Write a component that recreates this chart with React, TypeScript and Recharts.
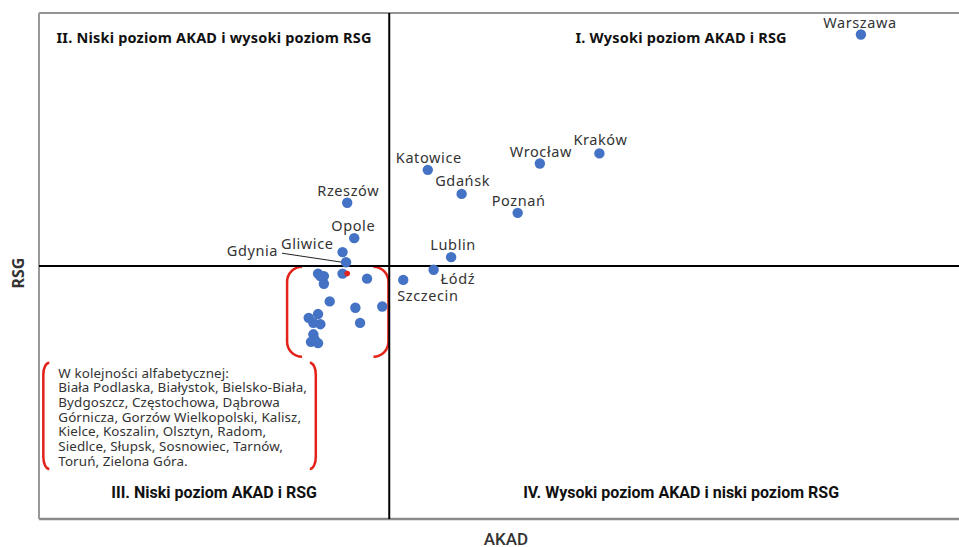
import React from 'react';
import {
  ScatterChart, Scatter, XAxis, YAxis, CartesianGrid, ReferenceLine, ReferenceArea,
} from 'recharts';

// ---- data ----
const cityNames = ['Warszawa', 'Kraków', 'Wrocław', 'Poznań', 'Katowice', 'Gdańsk', 'Lublin', 'Łódź', 'Szczecin', 'Rzeszów', 'Opole', 'Gliwice', 'Gdynia'];
const cityAkad = [7.04, 4.80, 4.29, 4.10, 3.33, 3.62, 3.53, 3.38, 3.12, 2.64, 2.70, 2.60, 2.63];
const cityRsg = [3.83, 2.89, 2.81, 2.42, 2.76, 2.57, 2.07, 1.97, 1.89, 2.50, 2.22, 2.11, 2.03];

const clusterAkad = [2.39, 2.44, 2.44, 2.60, 2.81, 2.49, 2.71, 2.94, 2.75, 2.31, 2.39, 2.35, 2.41, 2.35, 2.33, 2.39, 2.36, 2.41];
const clusterRsg = [1.94, 1.92, 1.86, 1.94, 1.90, 1.72, 1.67, 1.68, 1.55, 1.59, 1.62, 1.55, 1.54, 1.46, 1.40, 1.39, 1.42, 1.92];

const highlightAkad = [2.64];
const highlightRsg = [1.94];

const xTicks = [0, 1, 2, 3, 4, 5, 6, 7, 8];
const yTicks = [0, 1, 2, 3, 4];
const akadMid = 3;
const rsgMid = 2;

const quadrantTitles = [
  'I. Wysoki poziom AKAD i RSG',
  'II. Niski poziom AKAD i wysoki poziom RSG',
  'III. Niski poziom AKAD i RSG',
  'IV. Wysoki poziom AKAD i niski poziom RSG',
];

const legendLines = [
  'W kolejności alfabetycznej:',
  'Biała Podlaska, Białystok, Bielsko-Biała,',
  'Bydgoszcz, Częstochowa, Dąbrowa',
  'Górnicza, Gorzów Wielkopolski, Kalisz,',
  'Kielce, Koszalin, Olsztyn, Radom,',
  'Siedlce, Słupsk, Sosnowiec, Tarnów,',
  'Toruń, Zielona Góra.',
];

// ---- styles / label placement (kept apart from data) ----
const BLUE = '#4472C4';
const RED = '#E32219';
const TEXT = '#333333';
const LABEL_FONT = '"Noto Sans", sans-serif';
const TOP_FONT = '"Noto Sans", sans-serif';
const BOTTOM_FONT = 'Roboto, sans-serif';

const labelPlacement: Record<string, { dx: number; dy: number; anchor: string; leader?: boolean }> = {
  Warszawa: { dx: -1, dy: -13, anchor: 'middle' },
  'Kraków': { dx: 1, dy: -14, anchor: 'middle' },
  'Wrocław': { dx: 1, dy: -13, anchor: 'middle' },
  'Poznań': { dx: 1, dy: -13, anchor: 'middle' },
  Katowice: { dx: 1, dy: -13, anchor: 'middle' },
  'Gdańsk': { dx: 1, dy: -14, anchor: 'middle' },
  Lublin: { dx: 2, dy: -13, anchor: 'middle' },
  'Łódź': { dx: 7, dy: 8, anchor: 'start' },
  Szczecin: { dx: -6, dy: 15, anchor: 'start' },
  'Rzeszów': { dx: 1, dy: -13, anchor: 'middle' },
  Opole: { dx: -1, dy: -13, anchor: 'middle' },
  Gliwice: { dx: -9, dy: -9, anchor: 'end' },
  Gdynia: { dx: -68, dy: -12, anchor: 'end', leader: true },
};

const cityData = cityNames.map((name, i) => ({ name, x: cityAkad[i], y: cityRsg[i] }));
const clusterData = clusterAkad.map((x, i) => ({ x, y: clusterRsg[i] }));
const highlightData = highlightAkad.map((x, i) => ({ x, y: highlightRsg[i] }));

const CityShape = (props: any) => {
  const { cx, cy, payload } = props;
  const p = labelPlacement[payload.name] || { dx: 0, dy: -13, anchor: 'middle' };
  return (
    <g>
      {p.leader && (
        <line x1={cx + p.dx + 4} y1={cy + p.dy + 3} x2={cx - 4} y2={cy} stroke="#222" strokeWidth={1} />
      )}
      <circle cx={cx} cy={cy} r={5.2} fill={BLUE} />
      <text
        x={cx + p.dx}
        y={cy + p.dy}
        textAnchor={p.anchor as any}
        dominantBaseline="central"
        fontFamily={LABEL_FONT}
        fontSize={14.5}
        letterSpacing={0.6}
        fill={TEXT}
      >
        {payload.name}
      </text>
    </g>
  );
};

const DotShape = (props: any) => <circle cx={props.cx} cy={props.cy} r={5.2} fill={BLUE} />;
const RedShape = (props: any) => <circle cx={props.cx} cy={props.cy} r={2.8} fill={RED} />;

const bracketPaths = (x: number, y: number, w: number, h: number, rx: number, ry: number) => {
  const left = `M ${x + rx} ${y} A ${rx} ${ry} 0 0 0 ${x} ${y + ry} L ${x} ${y + h - ry} A ${rx} ${ry} 0 0 0 ${x + rx} ${y + h}`;
  const right = `M ${x + w - rx} ${y} A ${rx} ${ry} 0 0 1 ${x + w} ${y + ry} L ${x + w} ${y + h - ry} A ${rx} ${ry} 0 0 1 ${x + w - rx} ${y + h}`;
  return (
    <>
      <path d={left} fill="none" stroke={RED} strokeWidth={2.5} />
      <path d={right} fill="none" stroke={RED} strokeWidth={2.5} />
    </>
  );
};

const clusterBracket = (props: any) => {
  const { x, y, width, height } = props;
  return <g>{bracketPaths(x, y, width, height, 15, 15)}</g>;
};

const legendShape = (props: any) => {
  const { x, y, width, height } = props;
  return (
    <g>
      {bracketPaths(x, y, width, height, 6, 12)}
      <text x={x + 15} y={y + 10} fontFamily={LABEL_FONT} fontSize={13.4} letterSpacing={0.1} fill={TEXT} dominantBaseline="central">
        {legendLines.map((l, i) => (
          <tspan key={i} x={x + 15} dy={i === 0 ? 0 : 14.7}>{l}</tspan>
        ))}
      </text>
    </g>
  );
};

const titleShape = (title: string, pos: 'top' | 'bottom') => (props: any) => {
  const { x, y, width: w, height: h } = props;
  const top = pos === 'top';
  const ty = top ? y + 24 : y + h - 27;
  return (
    <text x={x + w / 2} y={ty} textAnchor="middle" dominantBaseline="central"
      fontFamily={top ? TOP_FONT : BOTTOM_FONT} fontWeight={700} fontSize={top ? 14.5 : 16}
      letterSpacing={top ? 0.2 : 0} fill="#111">
      {title}
    </text>
  );
};

export default function App() {
  return (
    <div style={{ position: 'absolute', left: 0, top: 0, width: 959, height: 547, overflow: 'hidden', background: '#fff' }}>
      <ScatterChart width={973} height={547} margin={{ top: 13, right: 0, bottom: 0, left: 0 }}>
        <CartesianGrid stroke="#e3e3e3" strokeWidth={1.5} />
        <XAxis
          type="number" dataKey="x" domain={[0, 8]} ticks={xTicks} tick={false} tickLine={false}
          axisLine={false} height={28}
          label={{ value: 'AKAD', position: 'center', dy: 6, style: { fontFamily: BOTTOM_FONT, fontWeight: 500, fontSize: 17, fill: TEXT } }}
        />
        <YAxis
          type="number" dataKey="y" domain={[0, 4]} ticks={yTicks} tick={false} tickLine={false}
          axisLine={false} width={39}
          label={{ value: 'RSG', angle: -90, position: 'center', dx: -1, dy: 7, style: { fontFamily: TOP_FONT, fontWeight: 700, fontSize: 16, fill: TEXT } }}
        />
        <ReferenceArea x1={akadMid} x2={8} y1={rsgMid} y2={4} fill="none" stroke="none" shape={titleShape(quadrantTitles[0], 'top')} />
        <ReferenceArea x1={0} x2={akadMid} y1={rsgMid} y2={4} fill="none" stroke="none" shape={titleShape(quadrantTitles[1], 'top')} />
        <ReferenceArea x1={0} x2={akadMid} y1={0} y2={rsgMid} fill="none" stroke="none" shape={titleShape(quadrantTitles[2], 'bottom')} />
        <ReferenceArea x1={akadMid} x2={8} y1={0} y2={rsgMid} fill="none" stroke="none" shape={titleShape(quadrantTitles[3], 'bottom')} />
        <ReferenceLine y={4} stroke="#777" strokeWidth={1.5} />
        <ReferenceLine y={0} stroke="#8a8a8a" strokeWidth={2.5} />
        <ReferenceLine x={0} stroke="#999" strokeWidth={2} />
        <ReferenceLine x={akadMid} stroke="#000" strokeWidth={2} />
        <ReferenceLine y={rsgMid} stroke="#000" strokeWidth={2} />
        <ReferenceArea x1={2.125} x2={2.993} y1={1.283} y2={1.994} fill="none" stroke="none" shape={clusterBracket} />
        <ReferenceArea x1={0.037} x2={2.371} y1={0.395} y2={1.236} fill="none" stroke="none" shape={legendShape} />
        <Scatter data={clusterData} shape={DotShape} isAnimationActive={false} />
        <Scatter data={cityData} shape={CityShape} isAnimationActive={false} />
        <Scatter data={highlightData} shape={RedShape} isAnimationActive={false} />
      </ScatterChart>
    </div>
  );
}
